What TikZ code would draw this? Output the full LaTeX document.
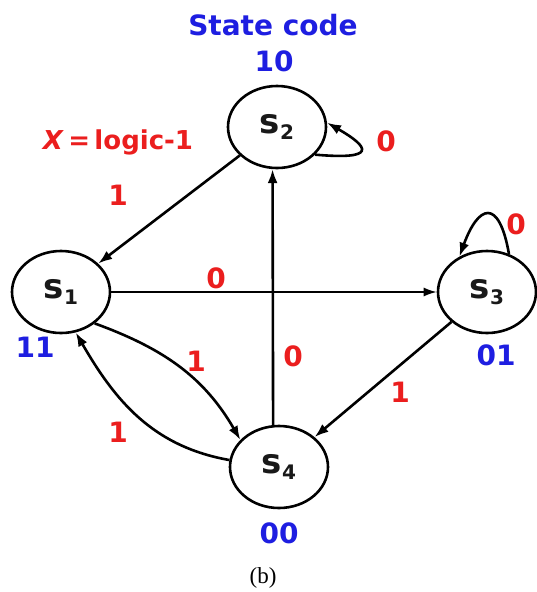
\documentclass[tikz,border=0pt]{standalone}
\usepackage{fontspec}
\setmainfont{DejaVu Sans}
\newfontfamily\serifb{Liberation Serif}
\usetikzlibrary{arrows.meta,shapes.geometric}
\definecolor{codeblue}{RGB}{30,30,225}
\definecolor{labred}{RGB}{235,30,30}
\begin{document}
\begin{tikzpicture}[x=1pt,y=1pt,
  state/.style={ellipse,draw,line width=2.6pt,minimum width=98pt,minimum height=82pt,inner sep=0pt,
    font=\bfseries\fontsize{34}{34}\selectfont,text=black!90},
  code/.style={font=\bfseries\fontsize{28}{28}\selectfont,text=codeblue,inner sep=0pt},
  lab/.style={font=\bfseries\fontsize{28}{28}\selectfont,text=labred,inner sep=0pt},
  arr/.style={line width=2.6pt,-{Latex[length=14pt,width=10pt]}},
  thinarr/.style={line width=1.7pt,-{Latex[length=13pt,width=9pt]}}]
\useasboundingbox (0,0) rectangle (536,-592);
\fill[white] (0,0) rectangle (536,-592);
\newcommand{\stname}[1]{s\raisebox{-6pt}{\fontsize{20}{20}\selectfont #1}}
\node[state] (S2) at (277,-127) {\stname{2}};
\node[state] (S1) at (61,-292) {\stname{1}};
\node[state] (S3) at (487,-292) {\stname{3}};
\node[state] (S4) at (279,-467) {\stname{4}};
% texts
\node[code] (title) at (273,-25) {State code};
\node[code] (c10) at (274,-61) {10};
\node[code] (c11) at (35,-347) {11};
\node[code] (c01) at (496,-355) {01};
\node[code] (c00) at (279,-533) {00};
\node[lab,font=\bfseries\fontsize{26}{26}\selectfont] (xl) at (118,-142) {\textit{X}\,=\,logic-1};
\node[lab] (l0a) at (386,-141) {0};
\node[lab] (l1a) at (118,-195) {1};
\node[lab] (l0b) at (516,-224) {0};
\node[lab] (l0c) at (216,-278) {0};
\node[lab] (l1b) at (196,-361) {1};
\node[lab] (l0d) at (293,-356) {0};
\node[lab] (l1c) at (400,-392) {1};
\node[lab] (l1d) at (118,-432) {1};
\node[font=\serifb\fontsize{23}{23}\selectfont,inner sep=0pt] (cap) at (263,-578) {(b)};
% edges
\draw[arr] (S2) -- (S1);
\draw[thinarr] (S1) -- (S3);
\draw[arr] (S4.98) -- (S2.264);
\draw[arr] (S3) -- (S4);
\draw[arr] (S1.-43) to[out=-20,in=120] (S4.145);
\draw[arr] (S4.172) to[out=170,in=-60] (S1.-70);
\draw[arr] (S2.-36) .. controls +(-5:62) and +(-30:50) .. (S2.5);
\draw[arr] (S3.60) .. controls +(100:58) and +(70:55) .. (S3.128);
\end{tikzpicture}
\end{document}
